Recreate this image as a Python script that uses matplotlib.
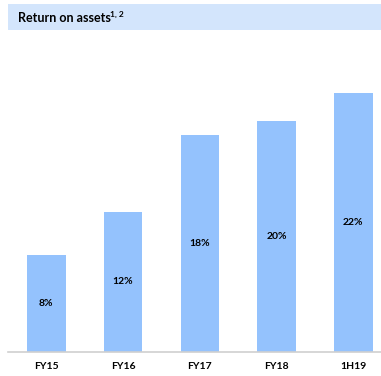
from matplotlib import pyplot as plt
from matplotlib.patches import Rectangle

# Data
periods = ['FY15', 'FY16', 'FY17', 'FY18', '1H19']
roa = [8.0, 11.6, 17.9, 19.1, 21.4]
roa_labels = ['8%', '12%', '18%', '20%', '22%']

plt.rcParams['font.family'] = ['Lato', 'DejaVu Sans']

fig = plt.figure(figsize=(3.81, 3.76), dpi=100)
ax = fig.add_axes([8 / 381, 1 - 352 / 376, 1 - 8 / 381, (352 - 40) / 376])

# header band
fig.patches.append(Rectangle((8 / 381, 1 - 30 / 376), 1 - 8 / 381, 26 / 376,
                             transform=fig.transFigure, facecolor='#D3E5FC',
                             edgecolor='none', zorder=-1))
fig.text(18 / 381, 1 - 17.5 / 376, 'Return on assets', fontsize=9,
         fontweight='bold', va='center', ha='left')
fig.text(110 / 381, 1 - 14.5 / 376, '1, 2', fontsize=6,
         fontweight='bold', va='center', ha='left')

x = range(len(periods))
bars = ax.bar(x, roa, width=0.5, color='#94C2FD')
for b, lab in zip(bars, roa_labels):
    ax.text(b.get_x() + b.get_width() / 2, b.get_height() / 2, lab,
            ha='center', va='center', fontsize=7.5, fontweight='bold')

ax.set_xlim(-0.5, -0.5 + 373 / 76.75)
ax.set_ylim(0, 312 / 12.1)
ax.set_xticks(list(x))
ax.set_xticklabels(periods, fontsize=7.5, fontweight='bold')
ax.tick_params(axis='x', length=0, pad=7)
ax.set_yticks([])
for s in ['top', 'right', 'left']:
    ax.spines[s].set_visible(False)
ax.spines['bottom'].set_color('#D0D0D0')
ax.spines['bottom'].set_linewidth(1.2)

plt.savefig('out.png', dpi=100)
